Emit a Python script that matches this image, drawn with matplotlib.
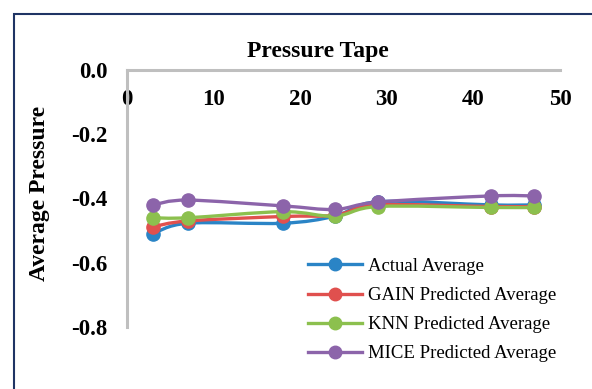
import matplotlib
matplotlib.use("Agg")
import matplotlib.pyplot as plt
from matplotlib.path import Path
from matplotlib.patches import PathPatch, Rectangle
from matplotlib.lines import Line2D
import numpy as np

x_vals = [3, 7, 18, 24, 29, 42, 47]
actual = [-0.510, -0.477, -0.477, -0.455, -0.410, -0.420, -0.420]
gain = [-0.488, -0.470, -0.456, -0.452, -0.420, -0.425, -0.425]
knn = [-0.460, -0.460, -0.441, -0.455, -0.425, -0.428, -0.428]
mice = [-0.420, -0.405, -0.423, -0.434, -0.411, -0.392, -0.392]
labels = ["Actual Average", "GAIN Predicted Average",
          "KNN Predicted Average", "MICE Predicted Average"]
x_ticks = [0, 10, 20, 30, 40, 50]
y_ticks = [0.0, -0.2, -0.4, -0.6, -0.8]

colors = ["#2A84C6", "#E0504E", "#8CC04E", "#8C64AA"]
series = [actual, gain, knn, mice]

W, H = 592, 389
fig = plt.figure(figsize=(W / 100, H / 100), dpi=100)
serif = ["Liberation Serif", "DejaVu Serif"]

# outer frame
fig.patches.append(Rectangle((14 / W, -0.1), 1.2, (H - 14) / H + 0.1, transform=fig.transFigure,
                             fill=False, edgecolor="#1F3464", linewidth=1.5))

ax = fig.add_axes([127 / W, 1 - 327 / H, (560 - 127) / W, (327 - 70) / H])
ax.set_xlim(0, 50)
ax.set_ylim(-0.8, 0)
ax.set_facecolor("none")
for s in ["top", "right"]:
    ax.spines[s].set_visible(False)
ax.spines["bottom"].set_position(("data", 0))
for s in ["bottom", "left"]:
    ax.spines[s].set_color("#BFBFBF")
    ax.spines[s].set_linewidth(2.2)
ax.set_xticks(x_ticks)
ax.set_xticklabels([str(t) for t in x_ticks], fontfamily=serif, fontweight="bold", fontsize=16.5)
ax.set_yticks(y_ticks)
ax.set_yticklabels([f"{t:.1f}" for t in y_ticks], fontfamily=serif, fontweight="bold", fontsize=16.5)
ax.tick_params(axis="x", length=0, pad=14)
ax.tick_params(axis="y", length=0, pad=14)


def smooth_path(xs, ys):
    pts = np.column_stack([xs, ys]).astype(float)
    n = len(pts)
    verts = [pts[0]]
    codes = [Path.MOVETO]
    for i in range(n - 1):
        p0 = pts[i - 1] if i > 0 else pts[i]
        p1 = pts[i]
        p2 = pts[i + 1]
        p3 = pts[i + 2] if i + 2 < n else pts[i + 1]
        c1 = p1 + (p2 - p0) / 6.0
        c2 = p2 - (p3 - p1) / 6.0
        verts += [c1, c2, p2]
        codes += [Path.CURVE4] * 3
    return Path(verts, codes)


handles = []
for k, (ys, c, lab) in enumerate(zip(series, colors, labels)):
    patch = PathPatch(smooth_path(x_vals, ys), fill=False, edgecolor=c, linewidth=2.4,
                      zorder=3 + 2 * k, capstyle="round", joinstyle="round")
    ax.add_patch(patch)
    ax.plot(x_vals, ys, linestyle="none", marker="o", markersize=9.5, color=c,
            zorder=4 + 2 * k, clip_on=False)
    handles.append(Line2D([], [], color=c, linewidth=2.4, marker="o", markersize=9))

fig.text(318 / W, 1 - 52 / H, "Pressure Tape", ha="center", va="center",
         fontfamily=serif, fontweight="bold", fontsize=17)
fig.text(40 / W, 1 - 193 / H, "Average Pressure", rotation=90, ha="center", va="center",
         fontfamily=serif, fontweight="bold", fontsize=17)

leg = fig.legend(handles, labels, loc="upper left", bbox_to_anchor=(306 / W, 1 - 256 / H),
                 frameon=False, prop={"family": serif, "size": 13.5}, handlelength=2.9,
                 handletextpad=0.3, labelspacing=0.64, borderaxespad=0, borderpad=0.1)

fig.savefig("out.png", dpi=100)
